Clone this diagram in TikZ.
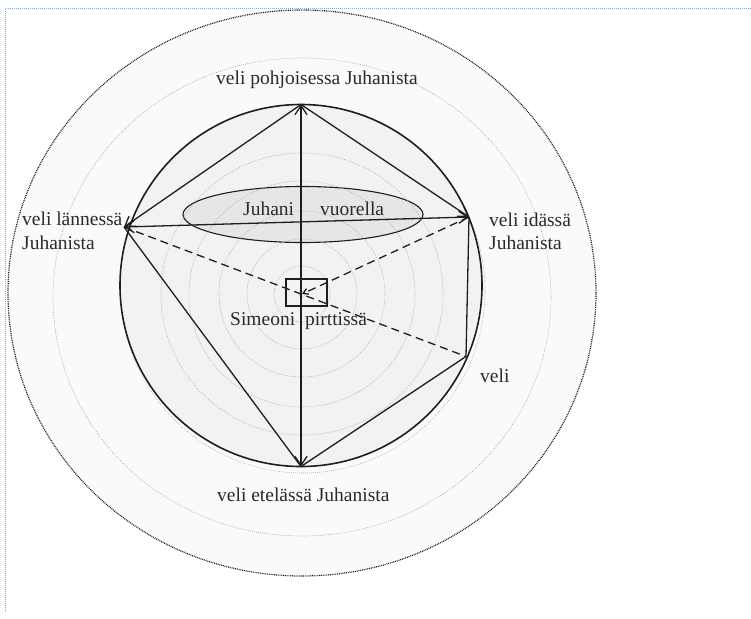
\documentclass[tikz,border=0pt]{standalone}
\usepackage{fontspec}
\setmainfont{Liberation Serif}
\usetikzlibrary{arrows.meta,shapes.geometric}
\definecolor{ink}{HTML}{1E1E1E}
\definecolor{txt}{HTML}{2A2A2A}
\definecolor{framec}{HTML}{8FA8C8}
\definecolor{outerfill}{HTML}{FAFAFA}
\definecolor{mainfill}{HTML}{F1F2F4}
\definecolor{ellfill}{HTML}{E6E6E6}
\begin{document}
\begin{tikzpicture}[x=1pt,y=-1pt,
  ring/.style={draw=gray!70, line width=0.6pt, dash pattern=on 0.7pt off 1.3pt},
  outerring/.style={draw=ink, line width=1.2pt, dash pattern=on 0.9pt off 0.9pt},
  link/.style={draw=ink, line width=1.3pt},
  dlink/.style={link, dash pattern=on 8pt off 5pt},
  tip/.style={-{Straight Barb[length=9pt,width=12pt]}},
  tips/.style={{Straight Barb[length=9pt,width=12pt]}-{Straight Barb[length=9pt,width=12pt]}},
  lbl/.style={font=\fontsize{19.5}{24}\selectfont, text=txt, inner sep=0pt, anchor=base west}]
\useasboundingbox (0,0) rectangle (751,618);
% frame
\draw[framec, line width=1pt, dash pattern=on 1pt off 1pt] (751,9) -- (5,9) -- (5,612);
% outer bands
\draw[outerring, fill=outerfill] (302,293) ellipse [x radius=294pt, y radius=283pt];
\draw[ring, draw=gray!80] (302,297) ellipse [x radius=249pt, y radius=239pt];
\draw[ring] (303,291) circle [radius=182pt];
% main circle
\draw[fill=mainfill, draw=ink, line width=1.6pt] (301,285.5) circle [radius=181pt];
% hill ellipse
\node[ellipse, draw=ink, fill=ellfill, line width=1.1pt, minimum width=240pt, minimum height=56pt, inner sep=0pt] (hill) at (303,214.5) {};
% inner rings
\foreach \r in {3,28,55,83,113,141}{
  \draw[ring] (302,294) circle [radius=\r pt];
}
% points
\coordinate (N) at (301,104.5);
\coordinate (S) at (301,466.5);
\coordinate (W) at (124,227);
\coordinate (E) at (469,217);
\coordinate (V) at (466,356.5);
\coordinate (C) at (302,294);
% connectors
\draw[link, tips] (S) -- (N);
\draw[link, tips] (W) -- (E);
\draw[link, tip] (N) -- (W);
\draw[link, tip] (N) -- (E);
\draw[link] (W) -- (S);
\draw[link] (E) -- (V);
\draw[link] (V) -- (S);
\draw[dlink] (W) -- (V);
\draw[dlink, -{Straight Barb[length=5pt,width=6pt]}] (E) -- (C);
% pirtti box
\node[draw=ink, line width=1.4pt, minimum width=41pt, minimum height=27pt, inner sep=0pt] (box) at (306.5,292.5) {};
% labels
\node[lbl] (nl) at (216,84) {veli pohjoisessa Juhanista};
\node[lbl] (sl) at (217,501) {veli etelässä Juhanista};
\node[lbl] (wl1) at (22,225) {veli lännessä};
\node[lbl] (wl2) at (22,249) {Juhanista};
\node[lbl] (el1) at (489,226) {veli idässä};
\node[lbl] (el2) at (489,249) {Juhanista};
\node[lbl] (vl) at (480,382) {veli};
\node[lbl] (sim1) at (230,325) {Simeoni};
\node[lbl] (sim2) at (305,325) {pirttissä};
\node[lbl] (hj1) at (243,215) {Juhani};
\node[lbl] (hj2) at (320,215) {vuorella};
\end{tikzpicture}
\end{document}
